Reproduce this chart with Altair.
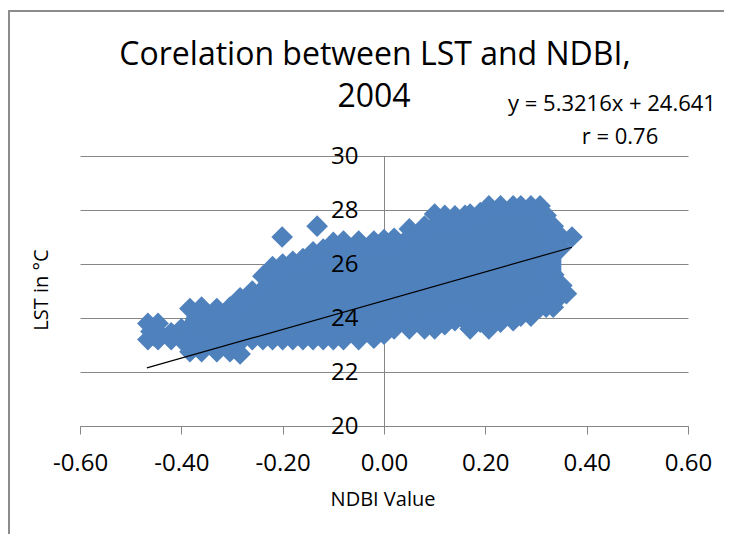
import altair as alt
import pandas as pd

# ---- data ----
# envelope of the dense cloud of points (NDBI value, lower LST, upper LST)
band_x  = [-0.466, -0.446, -0.42, -0.40, -0.383, -0.36, -0.33, -0.304, -0.284, -0.26,
           -0.239, -0.22, -0.20, -0.18, -0.16, -0.14, -0.12, -0.10, -0.08, -0.05,
           -0.02, 0.00, 0.02, 0.05, 0.08, 0.10, 0.12, 0.14, 0.16, 0.17,
           0.19, 0.207, 0.23, 0.255, 0.27, 0.29, 0.308, 0.32, 0.334, 0.35]
band_lo = [23.2, 23.2, 23.2, 23.2, 22.75, 22.75, 22.75, 22.75, 22.67, 23.2,
           23.2, 23.2, 23.2, 23.2, 23.2, 23.2, 23.2, 23.2, 23.2, 23.2,
           23.25, 23.4, 23.6, 23.6, 23.6, 23.6, 23.75, 23.9, 23.9, 23.6,
           23.85, 23.6, 23.85, 23.9, 24.07, 24.07, 24.4, 24.4, 24.4, 24.85]
band_hi = [23.8, 23.8, 23.45, 23.6, 24.35, 24.4, 24.35, 24.4, 24.75, 25.0,
           25.55, 25.9, 26.0, 26.1, 26.2, 26.45, 26.55, 26.8, 26.85, 26.85,
           26.85, 26.9, 26.95, 27.3, 27.4, 27.85, 27.8, 27.78, 27.8, 27.85,
           27.9, 28.15, 28.15, 28.15, 28.15, 28.15, 28.15, 27.8, 27.4, 27.0]
# extra points on the left / right edges and the two outliers
extra_x = [-0.46, -0.455, 0.36, 0.351, 0.335, 0.32, 0.33, 0.35, 0.371, -0.201, -0.132]
extra_y = [23.5, 23.35, 24.9, 25.2, 25.6, 25.9, 26.3, 26.6, 27.0, 27.0, 27.4]
# linear trend line end points
trend_x = [-0.468, 0.371]
trend_y = [22.15, 26.62]
x_ticks = [-0.6, -0.4, -0.2, 0.0, 0.2, 0.4, 0.6]
y_ticks = [20, 22, 24, 26, 28, 30]
title_lines = ["Corelation between LST and NDBI,", "2004"]
equation = "y = 5.3216x + 24.641"
r_text = "r = 0.76"
x_title = "NDBI Value"
y_title = "LST in °C"

BLUE = "#4F81BD"
GRID = "#868686"
FONT = "Open Sans"
W, H = 608, 270

band_df = pd.DataFrame({"x": band_x, "lo": band_lo, "hi": band_hi})
pts_df = pd.DataFrame({
    "x": band_x + band_x + extra_x,
    "y": band_lo + band_hi + extra_y,
})
trend_df = pd.DataFrame({"x": trend_x, "y": trend_y})
one = alt.Data(values=[{}])

xs = alt.Scale(domain=[-0.6, 0.6], nice=False, zero=False)
ys = alt.Scale(domain=[20, 30], nice=False, zero=False)

x_axis = alt.Axis(values=x_ticks, title=None, grid=False,
                  labelExpr="datum.value < 0 ? '-' + format(-datum.value, '.2f') : format(datum.value, '.2f')",
                  domainColor=GRID, tickColor=GRID, tickSize=8, labelFont=FONT, labelFontSize=24,
                  labelColor="#000000", labelPadding=17, labelFlush=False, labelOverlap=False)
y_grid_axis = alt.Axis(values=y_ticks, title=None, grid=True, gridColor=GRID, labels=False,
                       ticks=False, domain=True, domainColor=GRID, offset=-304, orient="left", zindex=0)
y_label_axis = alt.Axis(values=y_ticks, title=None, grid=False, labels=True, ticks=False,
                        domain=False, offset=-304, orient="left", zindex=1, labelPadding=26,
                        labelFont=FONT, labelFontSize=24, labelColor="#000000")

band = alt.Chart(band_df).mark_area(color=BLUE, opacity=1, interpolate="linear").encode(
    x=alt.X("x:Q", scale=xs, axis=x_axis),
    y=alt.Y("hi:Q", scale=ys, axis=y_grid_axis),
    y2="lo:Q",
)
points = alt.Chart(pts_df).mark_point(shape="diamond", filled=True, size=470, color=BLUE, opacity=1).encode(
    x=alt.X("x:Q", scale=xs, axis=x_axis),
    y=alt.Y("y:Q", scale=ys, axis=None),
)
trend = alt.Chart(trend_df).mark_line(color="#000000", strokeWidth=1.2).encode(
    x=alt.X("x:Q", scale=xs, axis=x_axis),
    y=alt.Y("y:Q", scale=ys, axis=y_label_axis),
)

def txt(s, x, y, size, angle=0):
    return alt.Chart(one).mark_text(text=s, font=FONT, fontSize=size, color="#000000",
                                    align="center", baseline="middle", angle=angle).encode(
        x=alt.value(x), y=alt.value(y))

t1 = txt(title_lines[0], 295, -101, 32)
t2 = txt(title_lines[1], 294, -59, 32)
t3 = txt(equation, 532, -52, 22)
t4 = txt(r_text, 540, -19, 22)
t5 = txt(x_title, 303, 344, 20)
t6 = txt(y_title, -38, 134, 20, angle=270)

border_v = alt.Chart(one).mark_rule(color="#8c8c8c", strokeWidth=2).encode(
    x=alt.value(-71), y=alt.value(-146), y2=alt.value(378))
border_h = alt.Chart(one).mark_rule(color="#8c8c8c", strokeWidth=2).encode(
    x=alt.value(-72), x2=alt.value(644), y=alt.value(-145))

chart = alt.layer(band, points, trend, t1, t2, t3, t4, t5, t6, border_v, border_h).resolve_axis(
    y="independent"
).properties(
    width=W, height=H,
    autosize=alt.AutoSizeParams(type="none"),
    padding={"left": 72, "top": 148, "right": 36, "bottom": 108},
).configure_view(stroke=None)

chart.save("out.html", embed_options={"renderer": "svg", "actions": False})
